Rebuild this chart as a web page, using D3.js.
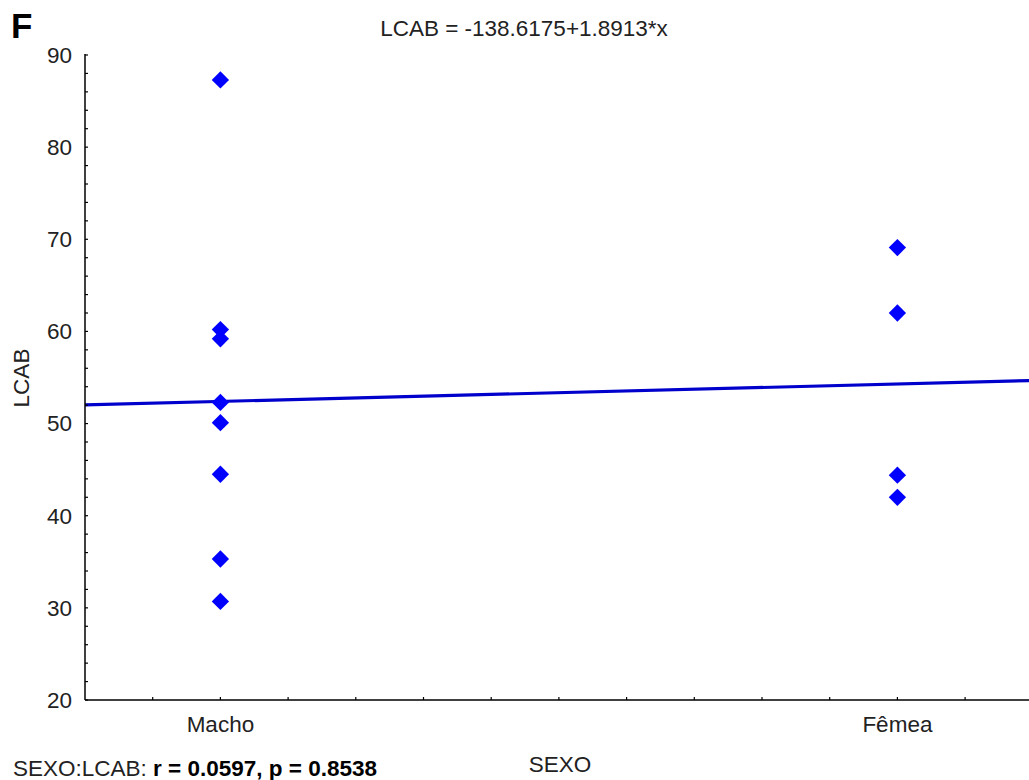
<!DOCTYPE html>
<html>
<head>
<meta charset="utf-8">
<script src="https://cdn.jsdelivr.net/npm/d3@7"></script>
<style>
html,body{margin:0;padding:0;background:#fff;}
svg{display:block;font-family:"Liberation Sans",Arial,sans-serif;}
</style>
</head>
<body>
<svg id="chart" width="1029" height="780"></svg>
<script>
// Data
const categories = ["Macho", "Fêmea"];
const categoryCodes = [101, 102];
const machoValues = [87.3, 60.2, 59.2, 52.3, 50.1, 44.5, 35.3, 30.7];
const femeaValues = [69.1, 62.0, 44.4, 42.0];
const intercept = -138.6175;
const slope = 1.8913;
const yTicks = [20, 30, 40, 50, 60, 70, 80, 90];

(function () {
const svg = d3.select("#chart");
const W = 1029, H = 780;
const pLeft = 85, pTop = 55, pBottom = 700;
const fs = 22.5;

const x = d3.scaleLinear().domain([100.8, 102.2]).range([pLeft, pLeft + 14 * 67.7]);
const y = d3.scaleLinear().domain([20, 90]).range([pBottom, pTop]);

const points = [];
machoValues.forEach(v => points.push({c: categoryCodes[0], v}));
femeaValues.forEach(v => points.push({c: categoryCodes[1], v}));

svg.append("defs").append("clipPath").attr("id", "plotclip")
  .append("rect").attr("x", pLeft).attr("y", 0).attr("width", W - pLeft).attr("height", pBottom);

// regression line
const xs = [100.8, x.invert(W + 5)];
svg.append("line")
  .attr("clip-path", "url(#plotclip)")
  .attr("x1", x(xs[0])).attr("y1", y(intercept + slope * xs[0]))
  .attr("x2", x(xs[1])).attr("y2", y(intercept + slope * xs[1]))
  .attr("stroke", "#0000cc").attr("stroke-width", 3.2);

// points
const diamond = d3.symbol().type(d3.symbolSquare).size(150);
svg.append("g").selectAll("path").data(points).join("path")
  .attr("d", diamond)
  .attr("transform", d => `translate(${x(d.c)},${y(d.v)}) rotate(45)`)
  .attr("fill", "#0000ff");

// y axis
const yAxisG = svg.append("g").attr("transform", `translate(${pLeft},0)`);
yAxisG.append("line").attr("x1", 0).attr("x2", 0).attr("y1", pTop - 1).attr("y2", pBottom)
  .attr("stroke", "#000").attr("stroke-width", 1.5);
const yMinor = d3.range(20, 90.01, 2);
yAxisG.selectAll("line.tk").data(yMinor).join("line").attr("class", "tk")
  .attr("x1", 0).attr("x2", 3).attr("y1", d => y(d)).attr("y2", d => y(d))
  .attr("stroke", "#000").attr("stroke-width", 1.2);
yAxisG.selectAll("text").data(yTicks).join("text")
  .attr("x", -13).attr("y", d => y(d)).attr("dy", "0.35em")
  .attr("text-anchor", "end").attr("font-size", fs).attr("fill", "#222")
  .text(d => d);

// x axis
const xAxisG = svg.append("g");
xAxisG.append("line").attr("x1", pLeft).attr("x2", W).attr("y1", pBottom).attr("y2", pBottom)
  .attr("stroke", "#000").attr("stroke-width", 1.5);
const xMinor = d3.range(100.9, 102.21, 0.1);
xAxisG.selectAll("line.tk").data(xMinor).join("line").attr("class", "tk")
  .attr("x1", d => x(d)).attr("x2", d => x(d)).attr("y1", pBottom).attr("y2", pBottom - 3)
  .attr("stroke", "#000").attr("stroke-width", 1.2);
xAxisG.selectAll("text").data(categoryCodes).join("text")
  .attr("x", d => x(d)).attr("y", 732)
  .attr("text-anchor", "middle").attr("font-size", fs).attr("fill", "#222")
  .text((d, i) => categories[i]);

// titles
svg.append("text").attr("x", 11).attr("y", 38).attr("font-size", 35).attr("font-weight", "bold")
  .attr("fill", "#000").text("F");
svg.append("text").attr("x", 524).attr("y", 36).attr("text-anchor", "middle")
  .attr("font-size", fs).attr("fill", "#222").text("LCAB = -138.6175+1.8913*x");
svg.append("text").attr("transform", "translate(29,378) rotate(-90)")
  .attr("text-anchor", "middle").attr("font-size", fs).attr("fill", "#222").text("LCAB");
svg.append("text").attr("x", 560).attr("y", 772).attr("text-anchor", "middle")
  .attr("font-size", fs).attr("fill", "#222").text("SEXO");
const st = svg.append("text").attr("x", 13).attr("y", 776).attr("font-size", fs).attr("fill", "#222");
st.append("tspan").text("SEXO:LCAB: ");
st.append("tspan").attr("font-weight", "bold").attr("fill", "#000").text("r = 0.0597, p = 0.8538");
})();
</script>
</body>
</html>
